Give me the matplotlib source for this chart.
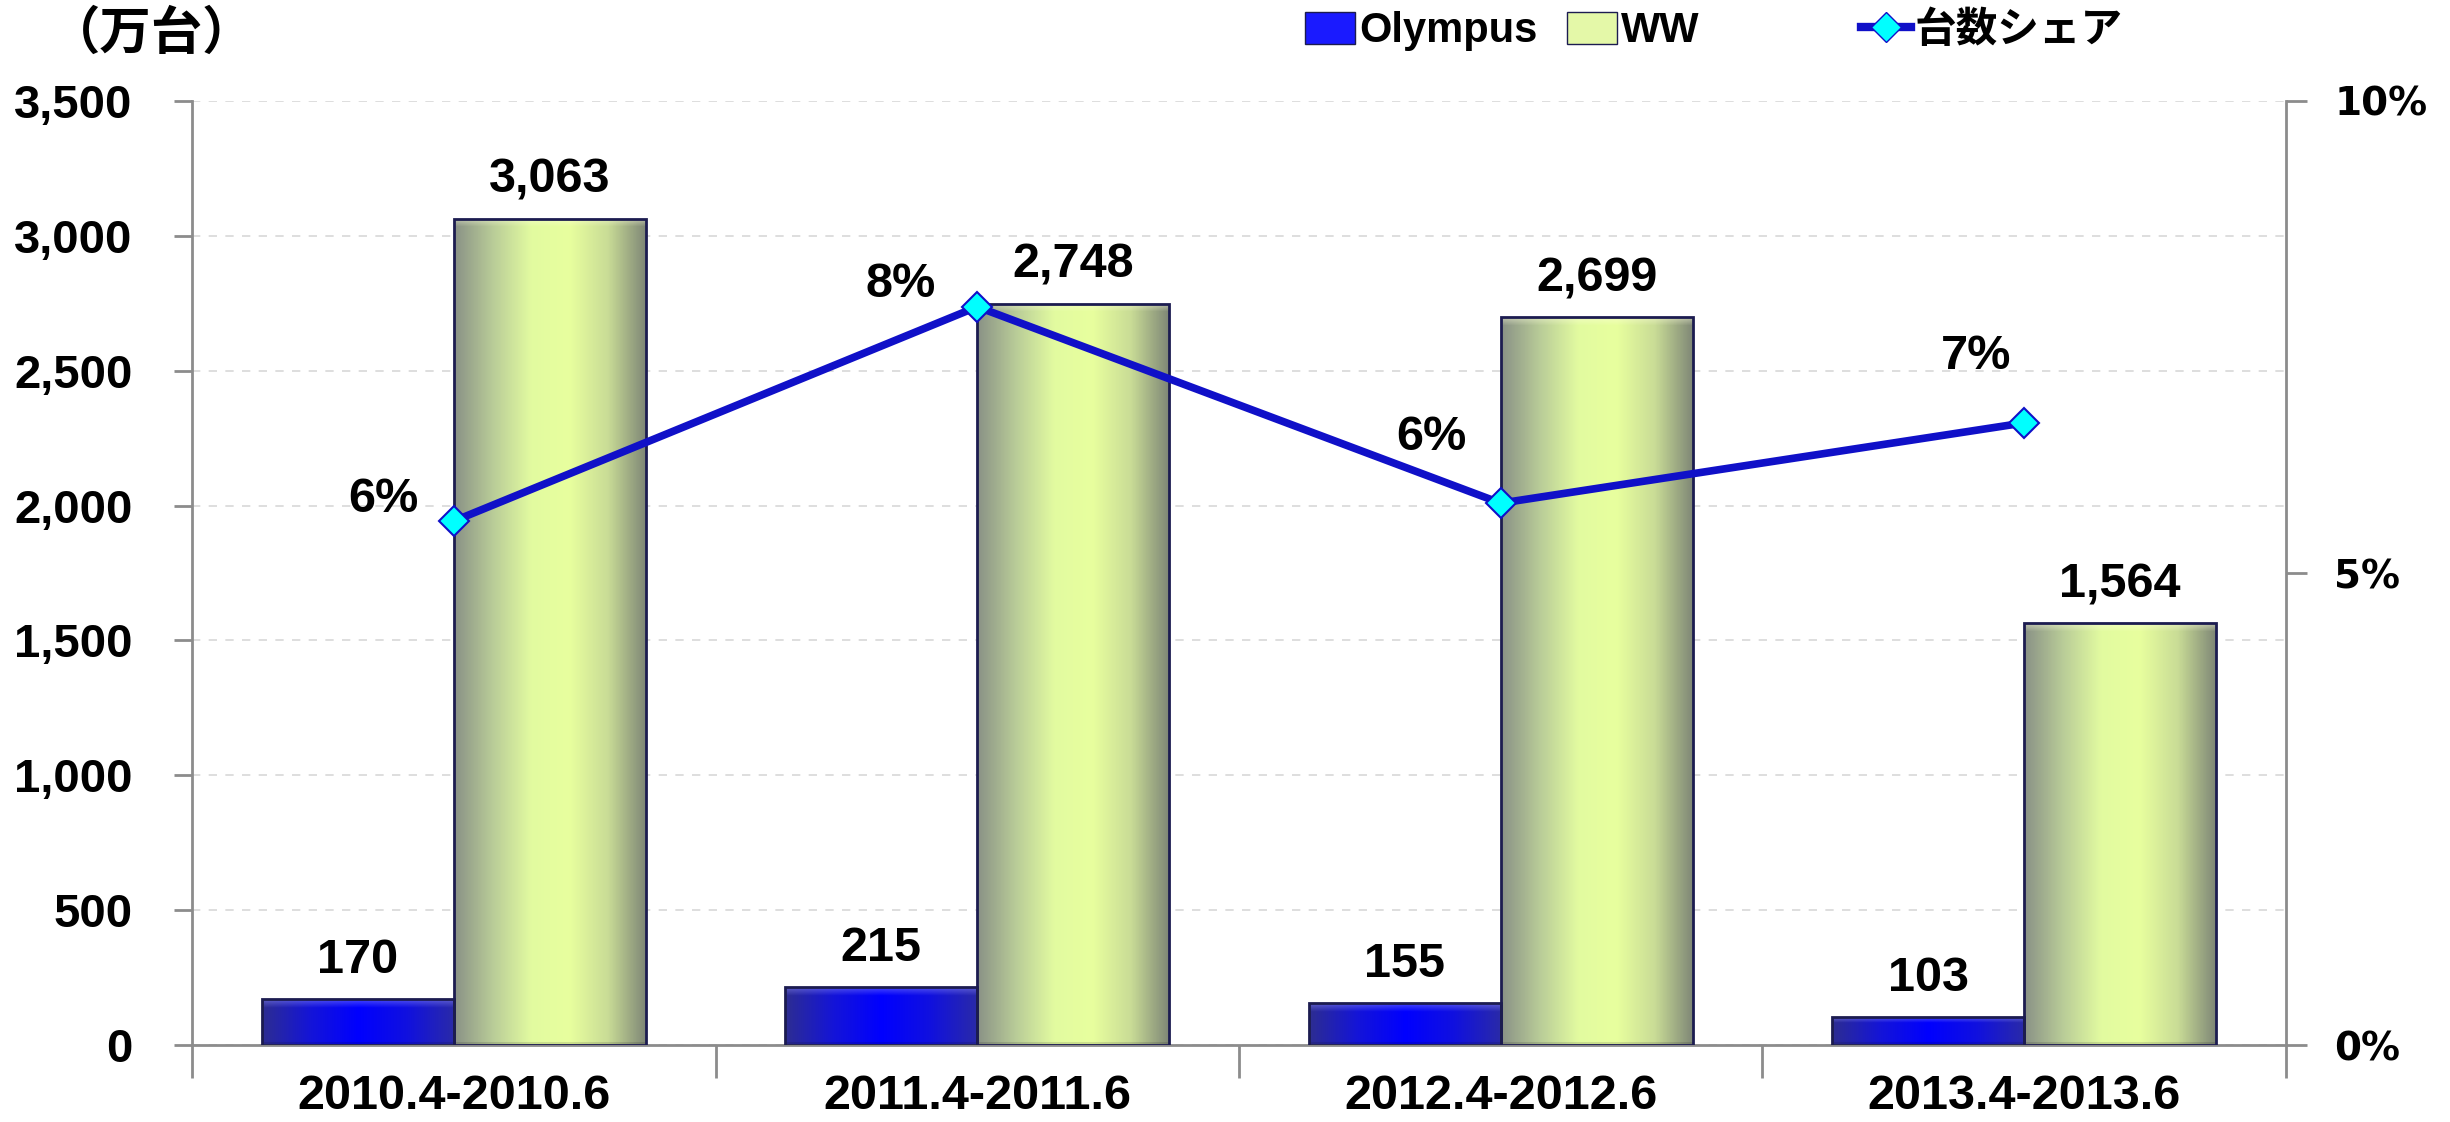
import matplotlib
matplotlib.use("Agg")
import matplotlib.pyplot as plt
import numpy as np
from matplotlib.colors import LinearSegmentedColormap
from matplotlib.lines import Line2D
from matplotlib.patches import Patch
from matplotlib.ticker import FuncFormatter, FixedLocator

plt.rcParams["font.family"] = ["Liberation Sans", "Noto Sans CJK JP", "DejaVu Sans"]
plt.rcParams["font.weight"] = "bold"

periods = ["2010.4-2010.6", "2011.4-2011.6", "2012.4-2012.6", "2013.4-2013.6"]
olympus = [170, 215, 155, 103]
ww = [3063, 2748, 2699, 1564]
share_pct = [5.55, 7.82, 5.74, 6.59]
share_labels = ["6%", "8%", "6%", "7%"]
left_ticks = [0, 500, 1000, 1500, 2000, 2500, 3000, 3500]
right_ticks = [0, 5, 10]

BAR_W = 0.367
LINE_BLUE = "#1010c8"
EDGE = "#1c1c50"
OLY_PROFILE = ["#2d2d92", "#1414d8", "#0000ff", "#1010e0", "#2a2aa8"]
WW_PROFILE = ["#8a9286", "#b9cc98", "#e2fba0", "#e8ff9e", "#c9dc96", "#7e8676"]

fig = plt.figure(figsize=(24.5, 11.22), dpi=100)
ax = fig.add_axes([0.0784, 0.0686, 0.8546, 0.8414])
ax2 = ax.twinx()

x = np.arange(len(periods))
px_per_unit = 944 / 3500


def gradient_bars(bars, profile, light):
    cmap = LinearSegmentedColormap.from_list("g", profile)
    cols = cmap(np.linspace(0, 1, 200))[:, :3]
    for patch in bars:
        x0, y0 = patch.get_x(), patch.get_y()
        w, h = patch.get_width(), patch.get_height()
        npx = max(int(h * px_per_unit), 4)
        img = np.tile(cols, (npx, 1, 1))
        bevel = min(9, npx // 4)
        fade = np.linspace(0.45, 0.0, bevel)[:, None, None]
        img[:bevel] = img[:bevel] * (1 - fade) + np.array(light) * fade
        img[-3:] = img[-3:] * 0.88
        im = ax.imshow(img, extent=[x0, x0 + w, y0, y0 + h], aspect="auto",
                       origin="upper", interpolation="bilinear", zorder=2)
        im.set_clip_path(patch)
        patch.set_facecolor("none")
        patch.set_zorder(3)


b1 = ax.bar(x - BAR_W / 2, olympus, width=BAR_W, edgecolor=EDGE, linewidth=2)
b2 = ax.bar(x + BAR_W / 2, ww, width=BAR_W, edgecolor=EDGE, linewidth=2)
gradient_bars(b1, OLY_PROFILE, (0.6, 0.6, 1.0))
gradient_bars(b2, WW_PROFILE, (1.0, 1.0, 0.88))
ax.set_xlim(-0.5, len(periods) - 0.5)
ax.set_ylim(0, 3500)
ax2.set_ylim(0, 10)

for bars, vals in ((b1, olympus), (b2, ww)):
    for patch, v in zip(bars, vals):
        ax.annotate(f"{v:,}", (patch.get_x() + patch.get_width() / 2, v),
                    xytext=(0, 16), textcoords="offset pixels",
                    ha="center", va="bottom", fontsize=35, fontweight="bold", zorder=5)

ax2.plot(x, share_pct, color=LINE_BLUE, lw=5.5, marker="D", markersize=15,
         markerfacecolor="#00ffff", markeredgecolor=LINE_BLUE, markeredgewidth=1.5, zorder=4)
label_offsets = [(-70, 22), (-77, 22), (-69, 66), (-48, 66)]
for xi, v, lab, off in zip(x, share_pct, share_labels, label_offsets):
    ax2.annotate(lab, (xi, v), xytext=off, textcoords="offset pixels",
                 ha="center", va="center", fontsize=35, fontweight="bold")

# axes styling
grey = "#8c8c8c"
ax.yaxis.set_major_locator(FixedLocator(left_ticks))
ax.yaxis.set_major_formatter(FuncFormatter(lambda v, p: f"{int(v):,}"))
ax.yaxis.grid(True, linestyle=(0, (5, 5)), color="#d8d8d8", lw=1.2)
ax.set_axisbelow(True)
ax.tick_params(axis="y", direction="out", length=13, width=2, color=grey,
               labelsize=34, pad=30)
ax.set_xticks(np.arange(-0.5, len(periods)), [])
ax.set_xticks(x, periods, minor=True)
ax.tick_params(axis="x", which="major", direction="out", length=24, width=2, color=grey)
ax.tick_params(axis="x", which="minor", length=0, labelsize=35, pad=21)
for lab in ax.get_yticklabels() + ax.get_xticklabels(minor=True):
    lab.set_fontweight("bold")
for s in ("top", "right"):
    ax.spines[s].set_visible(False)
for s in ("left", "bottom"):
    ax.spines[s].set_color(grey)
    ax.spines[s].set_linewidth(2)

ax2.yaxis.set_major_locator(FixedLocator(right_ticks))
ax2.set_yticklabels([f"{t}%" for t in right_ticks], fontsize=28, fontweight="bold",
                    family="DejaVu Sans")
ax2.tick_params(axis="y", direction="out", length=15, width=2, color=grey, pad=20)
for s in ("top", "left", "bottom"):
    ax2.spines[s].set_visible(False)
ax2.spines["right"].set_color(grey)
ax2.spines["right"].set_linewidth(2)

fig.text(0.062, 0.97, "（万台）", fontsize=37, fontweight="bold",
         ha="center", va="center", family=["Noto Sans CJK JP", "DejaVu Sans"])

# legend entries placed as separate columns
handles = [
    Patch(facecolor="#1a1aff", edgecolor=EDGE, label="Olympus"),
    Patch(facecolor="#e4f8a8", edgecolor=EDGE, label="WW"),
    Line2D([], [], color=LINE_BLUE, lw=6, marker="D", markersize=15,
           markerfacecolor="#00ffff", markeredgecolor=LINE_BLUE, label="台数シェア"),
]
for h, xpos in zip(handles, [0.524, 0.631, 0.751]):
    fig.legend(handles=[h], loc="center left", bbox_to_anchor=(xpos, 0.972),
               frameon=False, borderpad=0, handlelength=1.2, handleheight=0.8,
               handletextpad=0.1, prop={"size": 30, "weight": "bold",
                                        "family": ["Liberation Sans", "Noto Sans CJK JP"]})

fig.savefig("out.png", dpi=100)
